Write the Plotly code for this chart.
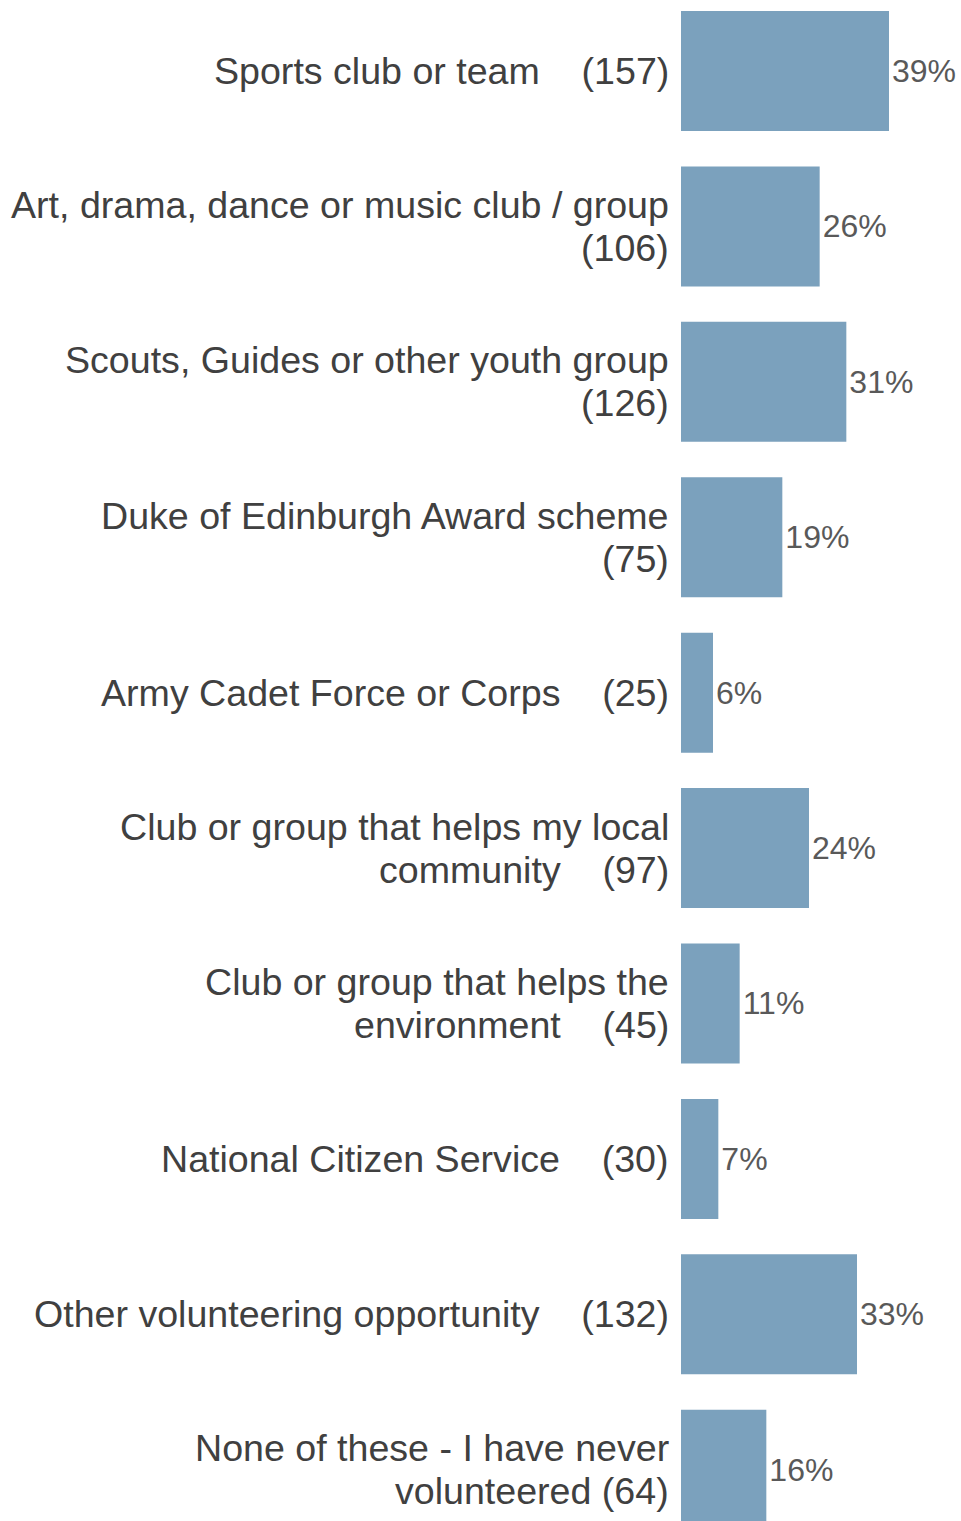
import plotly.graph_objects as go

categories = [
    "Sports club or team\u00a0\u00a0\u00a0\u00a0(157)",
    "Art, drama, dance or music club / group<br>(106)",
    "Scouts, Guides or other youth group<br>(126)",
    "Duke of Edinburgh Award scheme<br>(75)",
    "Army Cadet Force or Corps\u00a0\u00a0\u00a0\u00a0(25)",
    "Club or group that helps my local<br>community\u00a0\u00a0\u00a0\u00a0(97)",
    "Club or group that helps the<br>environment\u00a0\u00a0\u00a0\u00a0(45)",
    "National Citizen Service\u00a0\u00a0\u00a0\u00a0(30)",
    "Other volunteering opportunity\u00a0\u00a0\u00a0\u00a0(132)",
    "None of these - I have never<br>volunteered (64)",
]
percentages = [39, 26, 31, 19, 6, 24, 11, 7, 33, 16]
value_labels = [f"{v}%" for v in percentages]

positions = list(range(len(categories)))

LINE_PX = 43

fig = go.Figure()
fig.add_trace(go.Bar(
    x=percentages,
    y=positions,
    orientation="h",
    marker=dict(color="#7BA1BD", line=dict(width=0)),
    width=0.772,
    text=value_labels,
    textposition="outside",
    textfont=dict(family="Arial", size=32, color="#595959"),
    cliponaxis=False,
    hoverinfo="skip",
))

for i, lab in enumerate(categories):
    lines = lab.split("<br>")
    n = len(lines)
    for j, line in enumerate(lines):
        fig.add_annotation(
            x=0, y=positions[i], xref="x", yref="y",
            text=line, showarrow=False,
            xanchor="right", yanchor="middle", align="right",
            xshift=-10, yshift=((n - 1) / 2 - j) * LINE_PX,
            font=dict(family="Arial", size=37.6, color="#404040"),
        )

fig.update_layout(
    width=961, height=1521,
    margin=dict(l=681, r=0, t=0, b=0),
    plot_bgcolor="white", paper_bgcolor="white",
    showlegend=False,
    xaxis=dict(range=[0, 52.5], visible=False, fixedrange=True),
    yaxis=dict(range=[9.33, -0.457], visible=False, fixedrange=True),
)

fig.write_html(
    "out.html",
    config={"displayModeBar": False, "staticPlot": True},
    post_script="document.body.style.margin='0';document.body.style.overflow='hidden';",
)
